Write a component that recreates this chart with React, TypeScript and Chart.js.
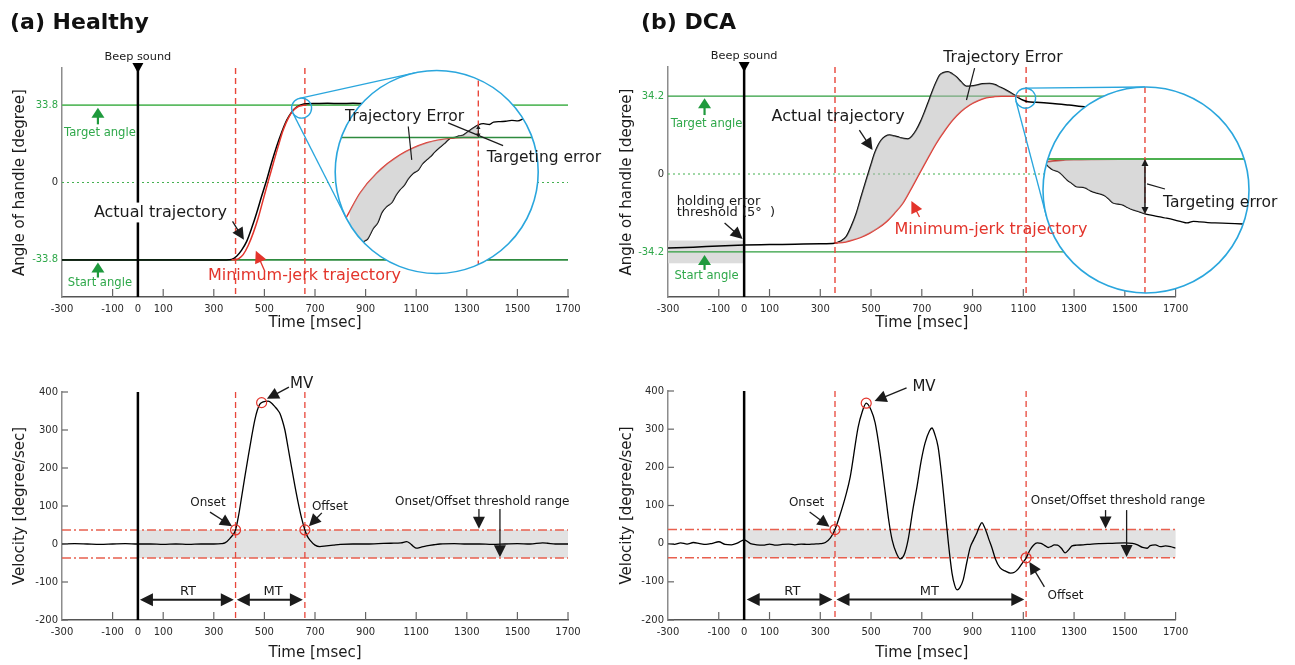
import React, { useEffect, useRef } from 'react';
import { Chart, registerables } from 'chart.js';

Chart.register(...registerables);

// ---------------- values ----------------
const X_TICKS = [-300, -100, 0, 100, 300, 500, 700, 900, 1100, 1300, 1500, 1700];
const A_ANGLE_TICKS = [-33.8, 0, 33.8];
const B_ANGLE_TICKS = [-34.2, 0, 34.2];
const VEL_TICKS = [-200, -100, 0, 100, 200, 300, 400];

const A_TARGET = 33.8;
const A_START = -33.8;
const B_TARGET = 34.2;
const B_START = -34.2;
const HOLD_ERROR = 5;
const VEL_THRESHOLD = 37;

const A_ONSET = 386;
const A_OFFSET = 660;
const A_MV = [489, 372];
const B_ONSET = 358;
const B_OFFSET = 1111;
const B_MV = [481, 368];

// (a) Healthy: handle angle [deg] vs time [ms]
const A_ACTUAL_T = [-300, 0, 200, 350, 370, 390, 410, 430, 450, 469, 489, 509, 528, 548, 568, 588, 607, 627, 647, 667, 700, 750, 800, 850, 900, 950];
const A_ACTUAL = [-33.8, -33.8, -33.8, -33.8, -33.6, -32.2, -29.5, -25.7, -19.8, -13.4, -6.0, 1.1, 8.5, 15.6, 21.8, 27.1, 30.6, 32.9, 34.0, 34.4, 34.5, 34.6, 34.5, 34.6, 34.5, 34.6];
const A_MINJERK_T = [370, 385, 400, 416, 436, 456, 476, 495, 515, 535, 555, 574, 594, 614, 634, 653, 667];
const A_MINJERK = [-33.8, -33.7, -33.1, -31.5, -27.5, -22.0, -15.3, -7.6, 0.5, 8.3, 16.0, 22.8, 28.0, 31.5, 33.2, 33.7, 33.8];

// (a) magnified end of movement
const A_LENS_T = 647;
const A_LENS_V = 32.5;
const A_LENS_END = 660.5;
const A_LENS_ACTUAL_T = [597, 600, 603.8, 606, 608.8, 611, 613, 615.4, 618, 620, 621.9, 624, 626, 628.5, 631, 633, 635.1, 637, 639, 641.6, 644, 646.6, 649, 651, 653.1, 655, 657, 658.5, 660.5, 663, 666, 668, 671.2, 674, 677, 680, 683];
const A_LENS_ACTUAL = [30.74, 30.95, 31.23, 31.3, 31.56, 31.7, 31.95, 32.1, 32.2, 32.38, 32.51, 32.62, 32.78, 32.92, 33.0, 33.15, 33.25, 33.33, 33.44, 33.56, 33.66, 33.78, 33.8, 33.84, 33.86, 33.93, 34.0, 34.05, 34.11, 34.14, 34.12, 34.18, 34.19, 34.2, 34.22, 34.21, 34.27];
const A_LENS_MINJERK_T = [588, 595.7, 602.2, 610.4, 621.9, 635.1, 646.6, 653, 660.5];
const A_LENS_MINJERK = [31.2, 31.85, 32.43, 32.92, 33.37, 33.67, 33.78, 33.8, 33.8];

// (b) DCA: handle angle [deg] vs time [ms]
const B_ACTUAL_T = [-300, -200, -100, 0, 100, 200, 300, 356, 380, 402, 422, 442, 461, 481, 498, 514, 527, 540, 556, 573, 592, 612, 630, 645, 660, 678, 695, 711, 727, 743, 757, 770, 787, 803, 820, 836, 855, 875, 895, 914, 940, 967, 987, 1006, 1033, 1059, 1085, 1100, 1118, 1150, 1216, 1280, 1348, 1420];
const B_ACTUAL = [-32.5, -32.1, -31.6, -31.2, -31.0, -30.8, -30.6, -30.4, -29.5, -27.5, -23.0, -17.2, -10.0, -2.6, 3.5, 9.1, 12.5, 14.9, 16.5, 17.1, 16.7, 16.1, 15.6, 15.4, 16.5, 19.3, 23.0, 27.3, 32.0, 36.8, 40.5, 43.4, 44.6, 44.9, 44.0, 42.7, 40.5, 38.6, 38.7, 39.0, 39.6, 39.8, 39.3, 38.3, 36.8, 35.1, 33.2, 32.4, 31.7, 31.5, 31.0, 30.3, 29.5, 29.2];
const B_MINJERK_T = [356, 400, 428, 460, 494, 527, 560, 592, 625, 658, 691, 724, 757, 790, 822, 855, 888, 921, 954, 987, 1020, 1050, 1085];
const B_MINJERK = [-30.4, -29.8, -29.0, -27.8, -26.0, -23.8, -21.0, -17.3, -12.9, -6.5, 0.3, 7.0, 13.5, 19.0, 23.7, 27.5, 30.3, 32.2, 33.5, 34.0, 34.15, 34.2, 34.2];
const B_FILL_END = 1085;

// (b) magnified end of movement
const B_LENS_T = 1109;
const B_LENS_V = 33.3;
const B_LENS_END = 1199;
const B_LENS_ACTUAL_T = [1098, 1101.9, 1106, 1109.7, 1113, 1116.5, 1120, 1123.3, 1128, 1133, 1137, 1140.8, 1146, 1152.4, 1156, 1160.2, 1164, 1168, 1173, 1177.7, 1182, 1187.4, 1193, 1199, 1206, 1213.6, 1220, 1228.2, 1234, 1239.8, 1246, 1252.4, 1260, 1267, 1280, 1294, 1302];
const B_LENS_ACTUAL = [34.1, 34.01, 33.8, 33.67, 33.62, 33.53, 33.35, 33.19, 33.02, 32.85, 32.84, 32.8, 32.66, 32.55, 32.5, 32.41, 32.25, 32.07, 32.02, 31.97, 31.85, 31.73, 31.65, 31.54, 31.47, 31.39, 31.33, 31.24, 31.17, 31.1, 31.18, 31.15, 31.12, 31.1, 31.08, 31.05, 31.04];
const B_LENS_MINJERK_T = [1096, 1105, 1115, 1130, 1150, 1175, 1199];
const B_LENS_MINJERK = [34.0, 34.08, 34.13, 34.17, 34.19, 34.2, 34.2];

// velocities [deg/s]
const A_VEL_T = [-300, -250, -200, -150, -100, -50, 0, 50, 100, 150, 200, 250, 300, 330, 344, 364, 386, 398, 410, 423, 436, 449, 462, 472, 482, 495, 515, 530, 542, 552, 561, 571, 581, 594, 607, 620, 634, 647, 660, 670, 680, 700, 719, 745, 772, 800, 850, 900, 950, 1000, 1040, 1062, 1075, 1088, 1101, 1120, 1141, 1170, 1194, 1250, 1300, 1350, 1400, 1450, 1500, 1550, 1600, 1620, 1650, 1700];
const A_VEL = [0, 1, 0, -1, 0, 1, 0, 0, -1, 0, -1, 0, 0, 1, 3, 15, 37, 75, 124, 178, 230, 280, 326, 352, 368, 374, 376, 370, 361, 353, 344, 325, 300, 252, 203, 155, 107, 68, 37, 20, 10, -3, -7, -5, -3, -1, 0, 0, 1, 2, 3, 6, 2, -6, -11, -8, -5, -2, 0, 1, 0, 0, -1, 0, 1, 0, 3, 2, 0, 0];
const B_VEL_T = [-300, -275, -250, -225, -200, -175, -150, -125, -100, -75, -50, -25, 0, 25, 50, 75, 100, 125, 150, 175, 200, 225, 250, 275, 300, 320, 340, 358, 380, 400, 418, 449, 465, 481, 500, 516, 535, 556, 570, 583, 600, 615, 630, 646, 665, 681, 697, 713, 730, 740, 752, 764, 778, 792, 805, 819, 830, 839, 850, 863, 877, 891, 904, 917, 927, 937, 946, 956, 965, 975, 990, 1008, 1030, 1050, 1065, 1080, 1095, 1111, 1125, 1140, 1155, 1170, 1185, 1198, 1210, 1222, 1235, 1250, 1265, 1280, 1292, 1310, 1336, 1370, 1402, 1450, 1500, 1530, 1550, 1570, 1588, 1600, 1620, 1640, 1660, 1680, 1700];
const B_VEL = [0, -2, 2, -1, 3, 0, -2, 1, 5, -2, -3, 2, 10, 0, -3, -4, -1, -4, -2, -1, -3, -1, -2, -1, 0, 3, 15, 37, 80, 125, 175, 305, 345, 368, 350, 317, 240, 133, 60, 10, -25, -40, -30, 10, 90, 149, 215, 264, 295, 303, 285, 254, 180, 88, 0, -77, -110, -121, -115, -95, -50, -9, 10, 28, 45, 55, 45, 28, 10, -8, -40, -63, -72, -77, -75, -66, -52, -38, -18, -4, 2, 1, -5, -10, -7, -3, -4, -12, -24, -15, -6, -4, -3, -1, 0, 1, 2, 1, -3, -10, -12, -5, -3, -8, -6, -8, -12];

// ---------------- layout (page pixels) ----------------
type Box = { left: number; top: number; w: number; h: number };
type Area = { l: number; t: number; r: number; b: number };
const TL_BOX: Box = { left: 0, top: 0, w: 640, h: 335 };
const TL_AREA: Area = { l: 62, t: 68, r: 568, b: 297 };
const TR_BOX: Box = { left: 600, top: 0, w: 695, h: 335 };
const TR_AREA: Area = { l: 668, t: 67, r: 1175.6, b: 297 };
const BL_BOX: Box = { left: 0, top: 335, w: 640, h: 330 };
const BL_AREA: Area = { l: 62, t: 392, r: 568, b: 620 };
const BR_BOX: Box = { left: 600, top: 335, w: 695, h: 330 };
const BR_AREA: Area = { l: 668, t: 391, r: 1175.6, b: 620 };
const IA_BOX: Box = { left: 330, top: 62, w: 285, h: 220 };
const IA_CIRCLE = { cx: 436.7, cy: 172, r: 101.5 };
const IB_BOX: Box = { left: 1038, top: 82, w: 252, h: 218 };
const IB_CIRCLE = { cx: 1146, cy: 190, r: 103 };

// ---------------- styles ----------------
const FONT = '"DejaVu Sans", "Liberation Sans", sans-serif';
const INK = '#1b1b1b';
const RED = '#e3342b';
const DASH_RED = '#e8463a';
const BLUE = '#2aa6dd';
const GREEN_TXT = '#2fa84a';
const GREEN_ARROW = '#1f9a3d';
const FILL = 'rgba(180,180,180,0.5)';

// ---------------- helpers ----------------
const pts = (ts: number[], vs: number[]) => ts.map((t, i) => ({ x: t, y: vs[i] }));
const between = (ts: number[], vs: number[], a: number, b: number) => pts(ts, vs).filter((p) => p.x >= a && p.x <= b);
const X = (c: any, t: number) => c.scales.x.getPixelForValue(t);
const Y = (c: any, v: number) => c.scales.y.getPixelForValue(v);

function lineDs(data: any[], color: string, width: number) {
  return { data, borderColor: color, backgroundColor: color, borderWidth: width, pointRadius: 0, fill: false, cubicInterpolationMode: 'monotone' };
}
function fillDs(data: any[], target: number) {
  return { data, borderColor: 'rgba(0,0,0,0)', borderWidth: 0, pointRadius: 0, fill: { target }, backgroundColor: FILL, cubicInterpolationMode: 'monotone' };
}

function seg(ctx: CanvasRenderingContext2D, x1: number, y1: number, x2: number, y2: number, color: string, w: number, dash: number[] = []) {
  ctx.save();
  ctx.strokeStyle = color;
  ctx.lineWidth = w;
  ctx.setLineDash(dash);
  ctx.beginPath();
  ctx.moveTo(x1, y1);
  ctx.lineTo(x2, y2);
  ctx.stroke();
  ctx.restore();
}
function hline(ctx: CanvasRenderingContext2D, c: any, v: number, color: string, w: number, dash: number[] = []) {
  seg(ctx, c.chartArea.left, Y(c, v), c.chartArea.right, Y(c, v), color, w, dash);
}
function vline(ctx: CanvasRenderingContext2D, c: any, t: number, color: string, w: number, dash: number[] = []) {
  seg(ctx, X(c, t), c.chartArea.top, X(c, t), c.chartArea.bottom, color, w, dash);
}
function head(ctx: CanvasRenderingContext2D, x: number, y: number, ang: number, hl: number, hw: number) {
  const cs = Math.cos(ang), sn = Math.sin(ang);
  ctx.beginPath();
  ctx.moveTo(x, y);
  ctx.lineTo(x - hl * cs + hw * sn, y - hl * sn - hw * cs);
  ctx.lineTo(x - hl * cs - hw * sn, y - hl * sn + hw * cs);
  ctx.closePath();
  ctx.fill();
}
function arrow(ctx: CanvasRenderingContext2D, x1: number, y1: number, x2: number, y2: number, color: string, lw: number, hl: number, hw: number, both = false) {
  const ang = Math.atan2(y2 - y1, x2 - x1);
  const cs = Math.cos(ang), sn = Math.sin(ang);
  ctx.save();
  ctx.strokeStyle = color;
  ctx.fillStyle = color;
  ctx.lineWidth = lw;
  ctx.setLineDash([]);
  ctx.beginPath();
  ctx.moveTo(both ? x1 + hl * 0.8 * cs : x1, both ? y1 + hl * 0.8 * sn : y1);
  ctx.lineTo(x2 - hl * 0.8 * cs, y2 - hl * 0.8 * sn);
  ctx.stroke();
  head(ctx, x2, y2, ang, hl, hw);
  if (both) head(ctx, x1, y1, ang + Math.PI, hl, hw);
  ctx.restore();
}
function text(ctx: CanvasRenderingContext2D, s: string, x: number, y: number, size: number, color: string, align: CanvasTextAlign = 'left', bg = false, weight = 'normal') {
  ctx.save();
  ctx.font = `${weight} ${size}px ${FONT}`;
  ctx.textAlign = align;
  ctx.textBaseline = 'middle';
  if (bg) {
    const w = ctx.measureText(s).width;
    const x0 = align === 'center' ? x - w / 2 : align === 'right' ? x - w : x;
    ctx.fillStyle = '#ffffff';
    ctx.fillRect(x0 - 2, y - size * 0.62, w + 4, size * 1.24);
  }
  ctx.fillStyle = color;
  ctx.fillText(s, x, y);
  ctx.restore();
}
function ring(ctx: CanvasRenderingContext2D, x: number, y: number, r: number, color: string, w: number) {
  ctx.save();
  ctx.strokeStyle = color;
  ctx.lineWidth = w;
  ctx.setLineDash([]);
  ctx.beginPath();
  ctx.arc(x, y, r, 0, Math.PI * 2);
  ctx.stroke();
  ctx.restore();
}
function greenArrow(ctx: CanvasRenderingContext2D, c: any, t: number, v0: number, v1: number) {
  arrow(ctx, X(c, t), Y(c, v0), X(c, t), Y(c, v1), GREEN_ARROW, 2.2, 10, 6.5);
}
function beepLine(ctx: CanvasRenderingContext2D, c: any) {
  seg(ctx, X(c, 0), c.chartArea.top, X(c, 0), c.chartArea.bottom, '#000', 2.5);
}
function beepMarker(ctx: CanvasRenderingContext2D, c: any) {
  const x = X(c, 0), top = c.chartArea.top;
  ctx.save();
  ctx.fillStyle = '#000';
  ctx.beginPath();
  ctx.moveTo(x - 5.5, top - 5);
  ctx.lineTo(x + 5.5, top - 5);
  ctx.lineTo(x, top + 5);
  ctx.closePath();
  ctx.fill();
  ctx.restore();
  text(ctx, 'Beep sound', x, top - 11, 11.3, INK, 'center');
}
function xTickMarks(ctx: CanvasRenderingContext2D, c: any) {
  const b = c.chartArea.bottom;
  X_TICKS.forEach((t) => {
    if (t === 0 || t === -300) return;
    seg(ctx, X(c, t), b, X(c, t), b - 8, '#666', 1.2);
  });
}
function yTickMarks(ctx: CanvasRenderingContext2D, c: any, ticks: number[]) {
  const l = c.chartArea.left;
  ticks.forEach((v) => seg(ctx, l, Y(c, v), l + 6, Y(c, v), '#666', 1.2));
}
function lensLinks(ctx: CanvasRenderingContext2D, c: any, t: number, v: number, circle: { cx: number; cy: number; r: number }, box: Box) {
  const x1 = X(c, t), y1 = Y(c, v), r1 = 10;
  const x2 = circle.cx - box.left, y2 = circle.cy - box.top, r2 = circle.r;
  const dx = x2 - x1, dy = y2 - y1, d = Math.hypot(dx, dy);
  const a = Math.atan2(dy, dx), b = Math.acos((r1 - r2) / d);
  [a + b, a - b].forEach((th) => {
    seg(ctx, x1 + r1 * Math.cos(th), y1 + r1 * Math.sin(th), x2 + r2 * Math.cos(th), y2 + r2 * Math.sin(th), BLUE, 1.3);
  });
  ring(ctx, x1, y1, r1, BLUE, 1.4);
}

// ---------------- panel annotations ----------------
function labelsA(ctx: CanvasRenderingContext2D, c: any) {
  greenArrow(ctx, c, -158, 25.4, 32.6);
  text(ctx, 'Target angle', X(c, -150), Y(c, 21.5), 11.6, GREEN_TXT, 'center');
  greenArrow(ctx, c, -158, -41.5, -34.9);
  text(ctx, 'Start angle', X(c, -150), Y(c, -43.7), 11.6, GREEN_TXT, 'center');
  text(ctx, 'Actual trajectory', X(c, -174), Y(c, -13.1), 16, INK, 'left', true);
  arrow(ctx, X(c, 374), Y(c, -17), X(c, 419), Y(c, -25), INK, 1.3, 12, 6);
  text(ctx, 'Minimum-jerk trajectory', X(c, 277), Y(c, -40.6), 16, RED);
  arrow(ctx, X(c, 502), Y(c, -38.9), X(c, 466), Y(c, -29.8), RED, 1.3, 12, 6);
}
function labelsB(ctx: CanvasRenderingContext2D, c: any) {
  greenArrow(ctx, c, -156, 25.9, 33.3);
  text(ctx, 'Target angle', X(c, -148), Y(c, 21.9), 11.6, GREEN_TXT, 'center');
  greenArrow(ctx, c, -156, -42.1, -35.6);
  text(ctx, 'Start angle', X(c, -148), Y(c, -44.7), 11.6, GREEN_TXT, 'center');
  text(ctx, 'holding error', X(c, -266), Y(c, -12.3), 13, INK);
  text(ctx, 'threshold (5°  )', X(c, -266), Y(c, -16.9), 13, INK);
  arrow(ctx, X(c, -77), Y(c, -21.5), X(c, -6), Y(c, -28.5), INK, 1.3, 12, 6);
  text(ctx, 'Actual trajectory', X(c, 108), Y(c, 25), 16, INK);
  arrow(ctx, X(c, 454), Y(c, 19.3), X(c, 506), Y(c, 10.5), INK, 1.3, 12, 6);
  text(ctx, 'Minimum-jerk trajectory', X(c, 592), Y(c, -24.6), 16, RED);
  arrow(ctx, X(c, 691), Y(c, -18.9), X(c, 659), Y(c, -11.8), RED, 1.3, 12, 6);
  text(ctx, 'Trajectory Error', X(c, 785), Y(c, 50.9), 15.5, INK);
  seg(ctx, X(c, 908), Y(c, 46.5), X(c, 876), Y(c, 32.5), INK, 1.2);
}
function labelsVelA(ctx: CanvasRenderingContext2D, c: any) {
  ring(ctx, X(c, A_ONSET), Y(c, VEL_THRESHOLD), 5, RED, 1.2);
  ring(ctx, X(c, A_MV[0]), Y(c, A_MV[1]), 5, RED, 1.2);
  ring(ctx, X(c, A_OFFSET), Y(c, VEL_THRESHOLD), 5, RED, 1.2);
  text(ctx, 'MV', X(c, 601), Y(c, 421), 15, INK);
  arrow(ctx, X(c, 597), Y(c, 413), X(c, 510), Y(c, 382), INK, 1.3, 12, 6);
  text(ctx, 'Onset', X(c, 277), Y(c, 108), 12, INK, 'center');
  arrow(ctx, X(c, 285), Y(c, 84), X(c, 372), Y(c, 47), INK, 1.3, 12, 6);
  text(ctx, 'Offset', X(c, 759), Y(c, 97), 12, INK, 'center');
  arrow(ctx, X(c, 727), Y(c, 82), X(c, 676), Y(c, 47), INK, 1.3, 12, 6);
  text(ctx, 'Onset/Offset threshold range', X(c, 1016), Y(c, 110), 12, INK);
  arrow(ctx, X(c, 1348), Y(c, 92), X(c, 1348), Y(c, 40), INK, 1.3, 12, 6);
  arrow(ctx, X(c, 1431), Y(c, 92), X(c, 1431), Y(c, -35), INK, 1.3, 12, 6);
  arrow(ctx, X(c, 8), Y(c, -147), X(c, 379), Y(c, -147), INK, 2, 13, 6.5, true);
  text(ctx, 'RT', X(c, 198), Y(c, -126), 13, INK, 'center');
  arrow(ctx, X(c, 391), Y(c, -147), X(c, 652), Y(c, -147), INK, 2, 13, 6.5, true);
  text(ctx, 'MT', X(c, 534), Y(c, -126), 13, INK, 'center');
}
function labelsVelB(ctx: CanvasRenderingContext2D, c: any) {
  ring(ctx, X(c, B_ONSET), Y(c, VEL_THRESHOLD), 5, RED, 1.2);
  ring(ctx, X(c, B_MV[0]), Y(c, B_MV[1]), 5, RED, 1.2);
  ring(ctx, X(c, B_OFFSET), Y(c, -VEL_THRESHOLD), 5, RED, 1.2);
  text(ctx, 'MV', X(c, 663), Y(c, 410), 15, INK);
  arrow(ctx, X(c, 640), Y(c, 408), X(c, 514), Y(c, 374), INK, 1.3, 12, 6);
  text(ctx, 'Onset', X(c, 246), Y(c, 107), 12, INK, 'center');
  arrow(ctx, X(c, 258), Y(c, 83), X(c, 336), Y(c, 44), INK, 1.3, 12, 6);
  text(ctx, 'Offset', X(c, 1195), Y(c, -137), 12, INK);
  arrow(ctx, X(c, 1183), Y(c, -113), X(c, 1124), Y(c, -48), INK, 1.3, 12, 6);
  text(ctx, 'Onset/Offset threshold range', X(c, 1129), Y(c, 112), 12, INK);
  arrow(ctx, X(c, 1424), Y(c, 88), X(c, 1424), Y(c, 40), INK, 1.3, 12, 6);
  arrow(ctx, X(c, 1507), Y(c, 88), X(c, 1507), Y(c, -35), INK, 1.3, 12, 6);
  arrow(ctx, X(c, 10), Y(c, -146), X(c, 348), Y(c, -146), INK, 2, 13, 6.5, true);
  text(ctx, 'RT', X(c, 190), Y(c, -125), 13, INK, 'center');
  arrow(ctx, X(c, 364), Y(c, -146), X(c, 1104), Y(c, -146), INK, 2, 13, 6.5, true);
  text(ctx, 'MT', X(c, 730), Y(c, -125), 13, INK, 'center');
}

// ---------------- chart builders ----------------
type MainSpec = {
  box: Box; area: Area; yMin: number; yMax: number; yTicks: number[]; yTitle: string; yTitleX: number;
  yColor: (v: number) => string; datasets: any[];
  bg: (ctx: CanvasRenderingContext2D, c: any) => void;
  fg: (ctx: CanvasRenderingContext2D, c: any) => void;
};

function makeMain(cv: HTMLCanvasElement, s: MainSpec) {
  const padTop = s.area.t - s.box.top;
  const padRight = s.box.left + s.box.w - s.area.r;
  const yWidth = s.area.l - s.box.left;
  const xHeight = s.box.top + s.box.h - s.area.b;
  return new Chart(cv, {
    type: 'line',
    data: { datasets: s.datasets },
    options: {
      responsive: false,
      animation: false,
      events: [],
      layout: { padding: { top: padTop, right: padRight, left: 0, bottom: 0 } },
      plugins: { legend: { display: false }, tooltip: { enabled: false }, title: { display: false } },
      elements: { point: { radius: 0 } },
      scales: {
        x: {
          type: 'linear', min: -300, max: 1700,
          afterBuildTicks: (sc: any) => { sc.ticks = X_TICKS.map((v) => ({ value: v })); },
          afterFit: (sc: any) => { sc.height = xHeight; },
          grid: { display: false, drawTicks: false },
          border: { display: true, color: '#555', width: 1.5 },
          ticks: { color: '#2a2a2a', font: { family: FONT, size: 10 }, padding: 6, maxRotation: 0, autoSkip: false, callback: (v: any) => String(v) },
          title: { display: true, text: 'Time [msec]', color: INK, font: { family: FONT, size: 15 }, padding: { top: 0, bottom: 3 } },
        },
        y: {
          type: 'linear', min: s.yMin, max: s.yMax,
          afterBuildTicks: (sc: any) => { sc.ticks = s.yTicks.map((v) => ({ value: v })); },
          afterFit: (sc: any) => { sc.width = yWidth; },
          grid: { display: false, drawTicks: false },
          border: { display: true, color: '#8c8c8c', width: 1.5 },
          ticks: { color: (ctx: any) => s.yColor(ctx.tick ? ctx.tick.value : 0), font: { family: FONT, size: 10 }, padding: 4, autoSkip: false, callback: (v: any) => String(v) },
          title: { display: true, text: s.yTitle, color: INK, font: { family: FONT, size: 15 }, padding: { top: s.yTitleX - s.box.left - 9, bottom: 0 } },
        },
      },
    } as any,
    plugins: [
      {
        id: 'deco',
        beforeDatasetsDraw: (c: any) => { s.bg(c.ctx, c); },
        afterDraw: (c: any) => { s.fg(c.ctx, c); },
      },
    ],
  });
}

type InsetSpec = {
  box: Box; circle: { cx: number; cy: number; r: number };
  xMin: number; xMax: number; yMin: number; yMax: number; datasets: any[];
  inner: (ctx: CanvasRenderingContext2D, c: any) => void;
  annot: (ctx: CanvasRenderingContext2D, c: any) => void;
};

function makeInset(cv: HTMLCanvasElement, s: InsetSpec, main: any, mainBox: Box, mainLabels: (ctx: CanvasRenderingContext2D, c: any) => void) {
  const { cx, cy, r } = s.circle;
  const circlePath = (ctx: CanvasRenderingContext2D, c: any) => {
    const a = c.chartArea;
    ctx.beginPath();
    ctx.arc((a.left + a.right) / 2, (a.top + a.bottom) / 2, (a.right - a.left) / 2, 0, Math.PI * 2);
  };
  return new Chart(cv, {
    type: 'line',
    data: { datasets: s.datasets },
    options: {
      responsive: false,
      animation: false,
      events: [],
      layout: {
        padding: {
          left: cx - r - s.box.left,
          top: cy - r - s.box.top,
          right: s.box.left + s.box.w - (cx + r),
          bottom: s.box.top + s.box.h - (cy + r),
        },
      },
      plugins: { legend: { display: false }, tooltip: { enabled: false } },
      scales: {
        x: { type: 'linear', display: false, min: s.xMin, max: s.xMax },
        y: { type: 'linear', display: false, min: s.yMin, max: s.yMax },
      },
    } as any,
    plugins: [
      {
        id: 'lens',
        beforeDatasetsDraw: (c: any) => {
          const ctx = c.ctx;
          ctx.save();
          circlePath(ctx, c);
          ctx.fillStyle = '#ffffff';
          ctx.fill();
          ctx.clip();
        },
        afterDatasetsDraw: (c: any) => {
          const ctx = c.ctx;
          s.inner(ctx, c);
          ctx.restore();
          ctx.save();
          circlePath(ctx, c);
          ctx.strokeStyle = BLUE;
          ctx.lineWidth = 1.6;
          ctx.stroke();
          ctx.restore();
        },
        afterDraw: (c: any) => {
          const ctx = c.ctx;
          s.annot(ctx, c);
          // main-panel labels that run over the lens (only inside the circle)
          ctx.save();
          circlePath(ctx, c);
          ctx.clip();
          ctx.translate(mainBox.left - s.box.left, mainBox.top - s.box.top);
          mainLabels(ctx, main);
          ctx.restore();
        },
      },
    ],
  });
}

// ---------------- app ----------------
export default function App() {
  const tlRef = useRef<HTMLCanvasElement>(null);
  const trRef = useRef<HTMLCanvasElement>(null);
  const blRef = useRef<HTMLCanvasElement>(null);
  const brRef = useRef<HTMLCanvasElement>(null);
  const iaRef = useRef<HTMLCanvasElement>(null);
  const ibRef = useRef<HTMLCanvasElement>(null);

  useEffect(() => {
    const charts: any[] = [];

    const tl = makeMain(tlRef.current!, {
      box: TL_BOX, area: TL_AREA, yMin: -50, yMax: 50, yTicks: A_ANGLE_TICKS,
      yTitle: 'Angle of handle [degree]', yTitleX: 20,
      yColor: (v) => (v === 0 ? '#2a2a2a' : GREEN_TXT),
      datasets: [lineDs(pts(A_MINJERK_T, A_MINJERK), RED, 1.5), lineDs(pts(A_ACTUAL_T, A_ACTUAL), '#000', 1.5)],
      bg: (ctx, c) => {
        hline(ctx, c, A_TARGET, '#5dbb63', 1.6);
        hline(ctx, c, A_START, '#2e8b3f', 1.6);
        hline(ctx, c, 0, '#43b04f', 1.1, [2, 3]);
        vline(ctx, c, A_ONSET, DASH_RED, 1.4, [6, 4]);
        vline(ctx, c, A_OFFSET, DASH_RED, 1.4, [6, 4]);
        beepLine(ctx, c);
      },
      fg: (ctx, c) => {
        xTickMarks(ctx, c);
        beepMarker(ctx, c);
        lensLinks(ctx, c, A_LENS_T, A_LENS_V, IA_CIRCLE, TL_BOX);
        labelsA(ctx, c);
      },
    });
    charts.push(tl);

    const tr = makeMain(trRef.current!, {
      box: TR_BOX, area: TR_AREA, yMin: -54, yMax: 47, yTicks: B_ANGLE_TICKS,
      yTitle: 'Angle of handle [degree]', yTitleX: 627,
      yColor: (v) => (v === 0 ? '#2a2a2a' : GREEN_TXT),
      datasets: [
        fillDs(between(B_ACTUAL_T, B_ACTUAL, B_ONSET - 2, B_FILL_END), 1),
        lineDs(pts(B_MINJERK_T, B_MINJERK), RED, 1.5),
        lineDs(pts(B_ACTUAL_T, B_ACTUAL), '#000', 1.5),
      ],
      bg: (ctx, c) => {
        ctx.save();
        ctx.fillStyle = '#dcdcdc';
        const y1 = Y(c, B_START + HOLD_ERROR), y2 = Y(c, B_START - HOLD_ERROR);
        ctx.fillRect(X(c, -300), y1, X(c, 0) - X(c, -300), y2 - y1);
        ctx.restore();
        hline(ctx, c, B_TARGET, '#2e9e3e', 1.4);
        hline(ctx, c, B_START, '#2e9e3e', 1.4);
        hline(ctx, c, 0, '#43b04f', 1.1, [2, 3]);
        vline(ctx, c, B_ONSET, DASH_RED, 1.4, [6, 4]);
        vline(ctx, c, B_OFFSET, DASH_RED, 1.4, [6, 4]);
        beepLine(ctx, c);
      },
      fg: (ctx, c) => {
        xTickMarks(ctx, c);
        beepMarker(ctx, c);
        lensLinks(ctx, c, B_LENS_T, B_LENS_V, IB_CIRCLE, TR_BOX);
        labelsB(ctx, c);
      },
    });
    charts.push(tr);

    const velBg = (onset: number, offset: number) => (ctx: CanvasRenderingContext2D, c: any) => {
      ctx.save();
      ctx.fillStyle = '#e2e2e2';
      const y1 = Y(c, VEL_THRESHOLD), y2 = Y(c, -VEL_THRESHOLD);
      ctx.fillRect(X(c, 0), y1, X(c, 1700) - X(c, 0), y2 - y1);
      ctx.restore();
      hline(ctx, c, VEL_THRESHOLD, '#e8604f', 1.4, [9, 3, 2, 3]);
      hline(ctx, c, -VEL_THRESHOLD, '#e8604f', 1.4, [9, 3, 2, 3]);
      vline(ctx, c, onset, DASH_RED, 1.3, [6, 4]);
      vline(ctx, c, offset, DASH_RED, 1.3, [6, 4]);
      beepLine(ctx, c);
    };

    const bl = makeMain(blRef.current!, {
      box: BL_BOX, area: BL_AREA, yMin: -200, yMax: 400, yTicks: VEL_TICKS,
      yTitle: 'Velocity [degree/sec]', yTitleX: 20, yColor: () => '#2a2a2a',
      datasets: [lineDs(pts(A_VEL_T, A_VEL), '#000', 1.3)],
      bg: velBg(A_ONSET, A_OFFSET),
      fg: (ctx, c) => { xTickMarks(ctx, c); yTickMarks(ctx, c, VEL_TICKS); labelsVelA(ctx, c); },
    });
    charts.push(bl);

    const br = makeMain(brRef.current!, {
      box: BR_BOX, area: BR_AREA, yMin: -200, yMax: 400, yTicks: VEL_TICKS,
      yTitle: 'Velocity [degree/sec]', yTitleX: 627, yColor: () => '#2a2a2a',
      datasets: [lineDs(pts(B_VEL_T, B_VEL), '#000', 1.3)],
      bg: velBg(B_ONSET, B_OFFSET),
      fg: (ctx, c) => { xTickMarks(ctx, c); yTickMarks(ctx, c, VEL_TICKS); labelsVelB(ctx, c); },
    });
    charts.push(br);

    const ia = makeInset(iaRef.current!, {
      box: IA_BOX, circle: IA_CIRCLE, xMin: 590, xMax: 690, yMin: 30.45, yMax: 35.45,
      datasets: [
        lineDs([{ x: 585, y: A_TARGET }, { x: 695, y: A_TARGET }], '#2e8b3f', 1.5),
        fillDs(between(A_LENS_ACTUAL_T, A_LENS_ACTUAL, 590, A_LENS_END), 2),
        lineDs(pts(A_LENS_MINJERK_T, A_LENS_MINJERK), RED, 1.4),
        lineDs(pts(A_LENS_ACTUAL_T, A_LENS_ACTUAL), '#000', 1.3),
      ],
      inner: (ctx, c) => {
        vline(ctx, c, A_LENS_END, DASH_RED, 1.4, [6, 4]);
        arrow(ctx, X(c, A_LENS_END), Y(c, A_TARGET), X(c, A_LENS_END), Y(c, 34.11), INK, 1, 4, 2.2, true);
      },
      annot: (ctx, c) => {
        text(ctx, 'Trajectory Error', X(c, 594.8), Y(c, 34.31), 15.5, INK);
        seg(ctx, X(c, 626), Y(c, 34.07), X(c, 627.7), Y(c, 33.25), INK, 1.2);
        text(ctx, 'Targeting error', X(c, 664.6), Y(c, 33.3), 15.5, INK);
        seg(ctx, X(c, 645.6), Y(c, 34.16), X(c, 672.7), Y(c, 33.6), INK, 1.2);
      },
    }, tl, TL_BOX, labelsA);
    charts.push(ia);

    const ib = makeInset(ibRef.current!, {
      box: IB_BOX, circle: IB_CIRCLE, xMin: 1100, xMax: 1300, yMin: 27.7, yMax: 37.7,
      datasets: [
        lineDs([{ x: 1090, y: B_TARGET }, { x: 1310, y: B_TARGET }], '#4cb050', 2),
        fillDs(between(B_LENS_ACTUAL_T, B_LENS_ACTUAL, 1096, B_LENS_END), 2),
        lineDs(pts(B_LENS_MINJERK_T, B_LENS_MINJERK), '#c8281f', 1.8),
        lineDs(pts(B_LENS_ACTUAL_T, B_LENS_ACTUAL), '#000', 1.3),
      ],
      inner: (ctx, c) => {
        vline(ctx, c, B_LENS_END, DASH_RED, 1.4, [6, 4]);
        arrow(ctx, X(c, B_LENS_END), Y(c, B_TARGET), X(c, B_LENS_END), Y(c, 31.54), INK, 1.5, 7, 3.5, true);
      },
      annot: (ctx, c) => {
        text(ctx, 'Targeting error', X(c, 1216.5), Y(c, 32.07), 15.5, INK);
        seg(ctx, X(c, 1201), Y(c, 33.0), X(c, 1218.4), Y(c, 32.75), INK, 1.2);
      },
    }, tr, TR_BOX, labelsB);
    charts.push(ib);

    return () => charts.forEach((ch) => ch.destroy());
  }, []);

  const cs = (b: Box): React.CSSProperties => ({ position: 'absolute', left: b.left, top: b.top, width: b.w, height: b.h });
  const titleStyle: React.CSSProperties = { position: 'absolute', top: 8, fontFamily: FONT, fontWeight: 'bold', fontSize: 22, color: '#111', lineHeight: '28px', whiteSpace: 'nowrap' };

  return (
    <div style={{ position: 'absolute', left: 0, top: 0, width: 1295, height: 665, background: '#fff', overflow: 'hidden' }}>
      <canvas ref={tlRef} width={TL_BOX.w} height={TL_BOX.h} style={cs(TL_BOX)} />
      <canvas ref={blRef} width={BL_BOX.w} height={BL_BOX.h} style={cs(BL_BOX)} />
      <canvas ref={trRef} width={TR_BOX.w} height={TR_BOX.h} style={cs(TR_BOX)} />
      <canvas ref={brRef} width={BR_BOX.w} height={BR_BOX.h} style={cs(BR_BOX)} />
      <canvas ref={iaRef} width={IA_BOX.w} height={IA_BOX.h} style={cs(IA_BOX)} />
      <canvas ref={ibRef} width={IB_BOX.w} height={IB_BOX.h} style={cs(IB_BOX)} />
      <div style={{ ...titleStyle, left: 10 }}>(a) Healthy</div>
      <div style={{ ...titleStyle, left: 641 }}>(b) DCA</div>
    </div>
  );
}
